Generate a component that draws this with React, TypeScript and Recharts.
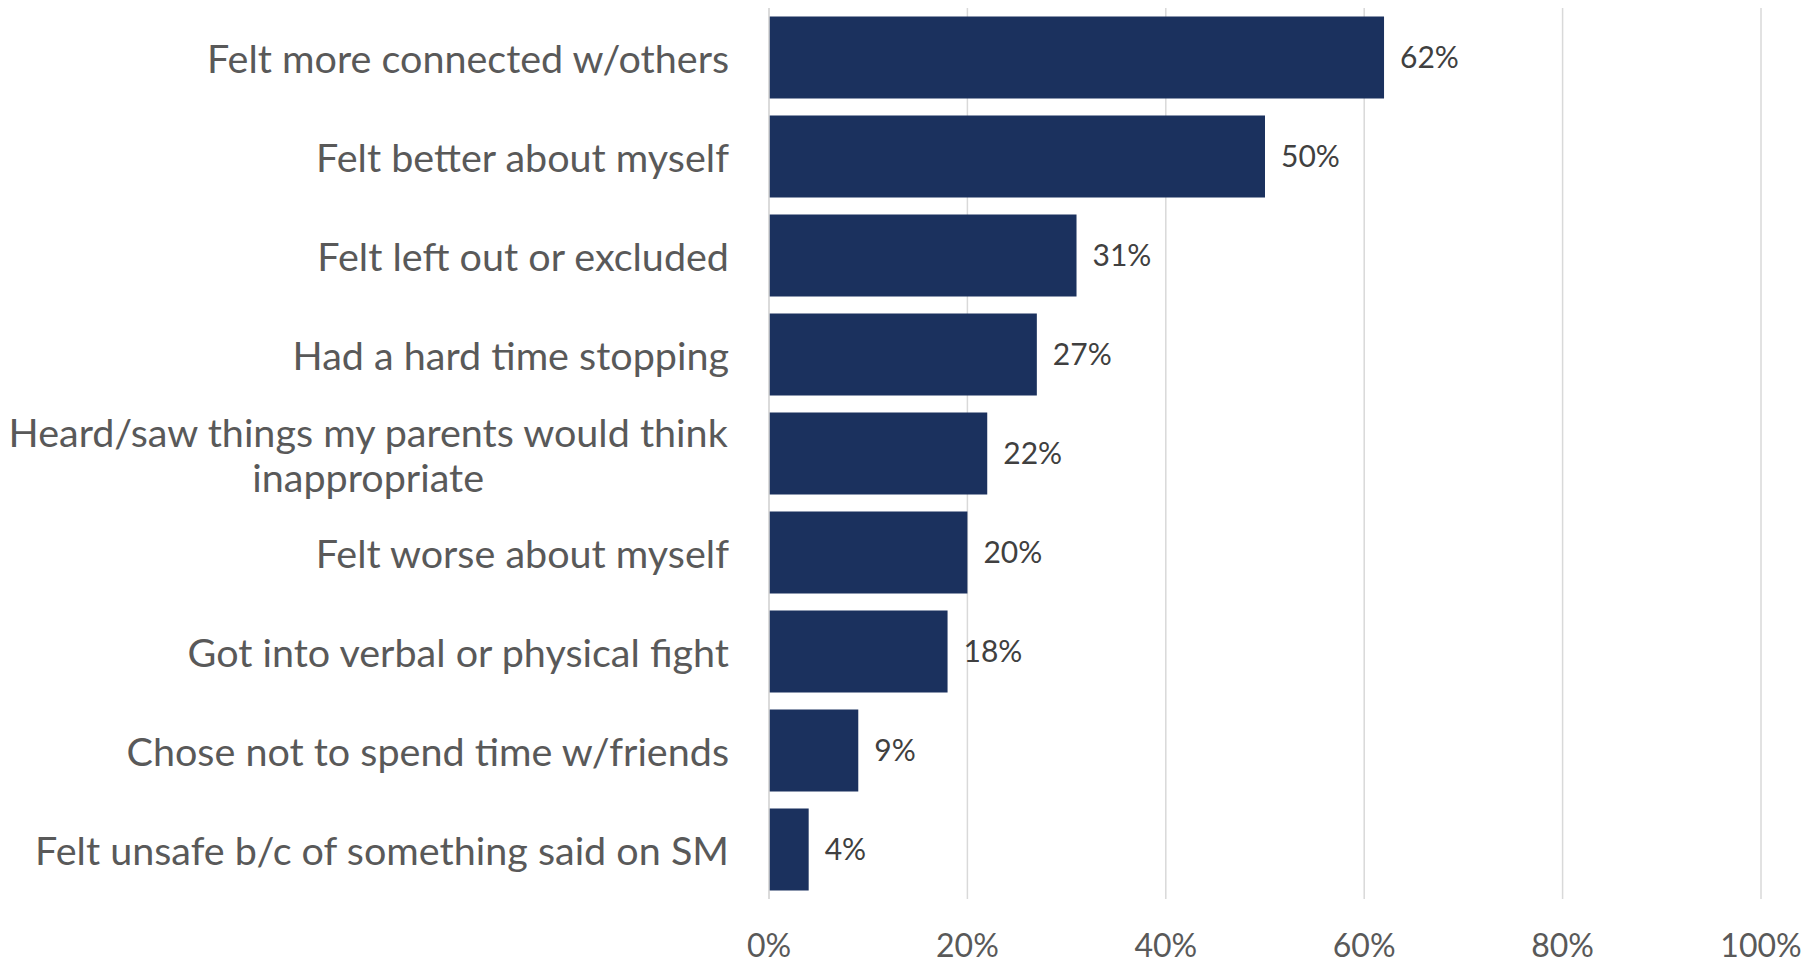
import { Bar, BarChart, CartesianGrid, LabelList, XAxis, YAxis } from "recharts";

const categories = [
  "Felt more connected w/others",
  "Felt better about myself",
  "Felt left out or excluded",
  "Had a hard time stopping",
  "Heard/saw things my parents would think\ninappropriate",
  "Felt worse about myself",
  "Got into verbal or physical fight",
  "Chose not to spend time w/friends",
  "Felt unsafe b/c of something said on SM",
];
const values = [62, 50, 31, 27, 22, 20, 18, 9, 4];
const ticks = [0, 20, 40, 60, 80, 100];

const data = categories.map((name, i) => ({ name, value: values[i] }));

const FONT = "Lato, 'Open Sans', sans-serif";
const CAT_SIZE = 39.5;

let ctx: CanvasRenderingContext2D | null = null;
function textWidth(s: string) {
  if (!ctx) ctx = document.createElement("canvas").getContext("2d");
  if (!ctx) return s.length * CAT_SIZE * 0.5;
  ctx.font = `${CAT_SIZE}px Lato`;
  return ctx.measureText(s).width;
}

function CategoryTick({ x, y, payload }: any) {
  const lines = String(payload.value).split("\n");
  const w = Math.max(...lines.map(textWidth));
  const multi = lines.length > 1;
  const lh = 45;
  return (
    <g>
      {lines.map((l, i) => (
        <text
          key={i}
          x={multi ? x - w / 2 : x}
          y={y + (i - (lines.length - 1) / 2) * lh}
          textAnchor={multi ? "middle" : "end"}
          dominantBaseline="central"
          fill="#595959"
          fontSize={CAT_SIZE}
          fontFamily={FONT}
        >
          {l}
        </text>
      ))}
    </g>
  );
}

function PctTick({ x, y, payload }: any) {
  return (
    <text x={x} y={y + 45} textAnchor="middle" dominantBaseline="central" fill="#595959" fontSize={32} fontFamily={FONT}>
      {payload.value}%
    </text>
  );
}

export default function App() {
  return (
    <div style={{ position: "absolute", left: 0, top: 0, width: 1806, height: 962, background: "#fff" }}>
      <BarChart
        width={1806}
        height={962}
        data={data}
        layout="vertical"
        margin={{ top: 8, right: 45, bottom: 0, left: 0 }}
        barCategoryGap="8.5%"
      >
        <CartesianGrid horizontal={false} stroke="#d9d9d9" strokeWidth={1.5} />
        <XAxis
          type="number"
          domain={[0, 100]}
          ticks={ticks}
          height={63}
          axisLine={false}
          tickLine={false}
          tickSize={0}
          tickMargin={0}
          tick={<PctTick />}
          interval={0}
        />
        <YAxis
          type="category"
          dataKey="name"
          width={769}
          axisLine={{ stroke: "#d9d9d9", strokeWidth: 1.5 }}
          tickLine={false}
          tickSize={0}
          tickMargin={40}
          tick={<CategoryTick />}
          interval={0}
        />
        <Bar dataKey="value" fill="#1b315e" isAnimationActive={false}>
          <LabelList
            dataKey="value"
            position="right"
            offset={16}
            formatter={(v: any) => `${v}%`}
            fill="#404040"
            fontSize={30}
            fontFamily={FONT}
          />
        </Bar>
      </BarChart>
    </div>
  );
}
